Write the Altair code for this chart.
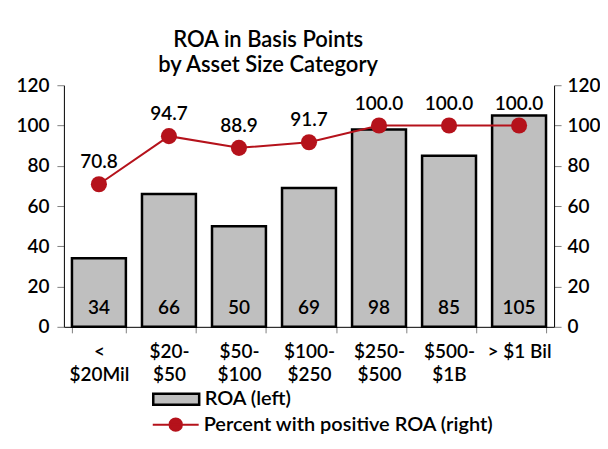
import altair as alt
import pandas as pd

categories = ["<|$20Mil", "$20-|$50", "$50-|$100", "$100-|$250", "$250-|$500", "$500-|$1B", "> $1 Bil"]
roa = [34, 66, 50, 69, 98, 85, 105]
pct_positive = [70.8, 94.7, 88.9, 91.7, 100.0, 100.0, 100.0]
roa_name = "ROA (left)"
pct_name = "Percent with positive ROA (right)"

df = pd.DataFrame({
    "cat": categories,
    "roa": roa,
    "pct": pct_positive,
    "roa_name": [roa_name] * len(categories),
    "pct_name": [pct_name] * len(categories),
})

FONT = "Lato"
W = 600
FS = 19
RED = "#B5121B"
GRAY = "#BFBFBF"
TICK = "#808080"

x_enc = alt.X(
    "cat:N", sort=categories, title=None,
    scale=alt.Scale(paddingInner=0.23, paddingOuter=0.115),
    axis=alt.Axis(
        labelAngle=0, labelExpr="split(datum.label, '|')", labelLineHeight=23,
        labelFontSize=FS, labelFont=FONT, labelFontWeight=W, labelColor="black", labelBaseline="top",
        labelPadding=10, tickBand="extent", tickSize=6, tickColor=TICK,
        domainColor="black", domainWidth=1, labelLimit=200,
    ),
)

left_axis = alt.Axis(
    orient="left", values=[0, 20, 40, 60, 80, 100, 120], grid=False, title=None,
    labelFontSize=FS, labelFont=FONT, labelFontWeight=W, labelColor="black", labelPadding=8,
    tickSize=7, tickColor=TICK, domainColor="black",
)
right_axis = alt.Axis(
    orient="right", values=[0, 20, 40, 60, 80, 100, 120], grid=False, title=None,
    labelFontSize=FS, labelFont=FONT, labelFontWeight=W, labelColor="black", labelPadding=6,
    tickSize=7, tickColor=TICK, domainColor="black",
)
yscale = alt.Scale(domain=[0, 120], nice=False)

base = alt.Chart(df)

bars = base.mark_bar(stroke="black", strokeWidth=2.5).encode(
    x=x_enc,
    y=alt.Y("roa:Q", scale=yscale, axis=left_axis),
    fill=alt.Fill(
        "roa_name:N", scale=alt.Scale(range=[GRAY]),
        legend=alt.Legend(
            title=None, orient="none", legendX=88, legendY=290, padding=0,
            symbolType="M-1,-0.24H1V0.24H-1Z", symbolSize=2116,
            symbolStrokeColor="black", symbolStrokeWidth=2.5, symbolFillColor=GRAY,
            labelFontSize=20, labelFont=FONT, labelFontWeight=W, labelColor="black",
            labelOffset=4, labelLimit=400,
        ),
    ),
)
bar_text = base.mark_text(font=FONT, fontSize=FS, fontWeight=W, color="black", baseline="alphabetic", dy=-13).encode(
    x=x_enc,
    y=alt.Y("zero:Q", scale=yscale, axis=left_axis),
    text=alt.Text("roa:Q"),
).transform_calculate(zero="0")

left = alt.layer(bars, bar_text)

line = base.mark_line(strokeWidth=2).encode(
    x=x_enc,
    y=alt.Y("pct:Q", scale=yscale, axis=right_axis),
    stroke=alt.Stroke(
        "pct_name:N", scale=alt.Scale(range=[RED]),
        legend=alt.Legend(
            title=None, orient="none", legendX=88, legendY=316, padding=0,
            symbolType="M-1,0H1M-0.27,0A0.27,0.27 0 1,0 0.27,0A0.27,0.27 0 1,0 -0.27,0Z",
            symbolSize=2116, symbolStrokeColor=RED, symbolStrokeWidth=2,
            symbolFillColor=RED,
            labelFontSize=20, labelFont=FONT, labelFontWeight=W, labelColor="black",
            labelOffset=4, labelLimit=400,
        ),
    ),
)
points = base.mark_point(filled=True, color=RED, size=260, opacity=1).encode(
    x=x_enc,
    y=alt.Y("pct:Q", scale=yscale, axis=right_axis),
)
line_text = base.mark_text(font=FONT, fontSize=FS, fontWeight=W, color="black", baseline="middle", dy=-22).encode(
    x=x_enc,
    y=alt.Y("pct:Q", scale=yscale, axis=right_axis),
    text=alt.Text("pct:Q", format=".1f"),
)
right = alt.layer(line, points, line_text)

chart = alt.layer(left, right).resolve_scale(y="independent").properties(
    width=491, height=242,
    autosize=alt.AutoSizeParams(type="none"),
    padding={"left": 56, "top": 77, "right": 46, "bottom": 110},
    title=alt.TitleParams(
        text=["ROA in Basis Points", "by Asset Size Category"],
        font=FONT, fontSize=22, fontWeight=W, color="black",
        anchor="middle", dx=-41, lineHeight=25, offset=-1,
    ),
).configure_view(stroke=None)

chart.save("out.html", embed_options={"renderer": "svg", "actions": False})
